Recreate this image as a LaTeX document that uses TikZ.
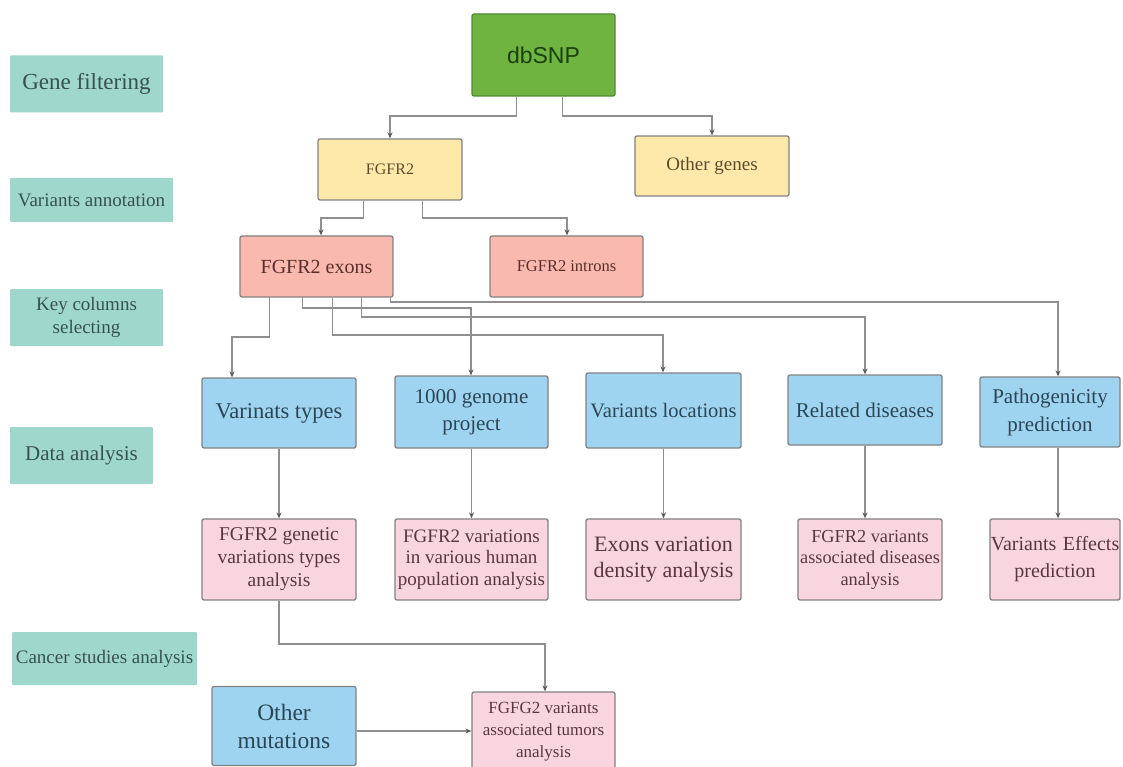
\documentclass[tikz,border=0pt]{standalone}
\usepackage{fontspec}
\setmainfont{Liberation Serif}
\newfontfamily\sansf{Liberation Sans}
\usetikzlibrary{arrows.meta,calc}
\definecolor{tealf}{HTML}{A0D7CC}
\definecolor{tealt}{HTML}{35534E}
\definecolor{greenf}{HTML}{6FB441}
\definecolor{greend}{HTML}{4F8A30}
\definecolor{greent}{HTML}{1C3F10}
\definecolor{yellowf}{HTML}{FFE9AA}
\definecolor{yellowt}{HTML}{5A4B2E}
\definecolor{salmonf}{HTML}{F9B9AE}
\definecolor{salmont}{HTML}{5A2E2A}
\definecolor{bluef}{HTML}{9FD4F1}
\definecolor{bluet}{HTML}{2A4656}
\definecolor{pinkf}{HTML}{F9D5E0}
\definecolor{pinkt}{HTML}{5A3642}
\definecolor{edgec}{HTML}{828282}
\definecolor{linec}{HTML}{8F8F8F}
\definecolor{tipc}{HTML}{5A5A5A}
\tikzset{
  phase/.style={fill=tealf, text=tealt, inner sep=0pt, align=center, rounded corners=1pt},
  boxn/.style={draw=edgec, line width=1.3pt, rounded corners=2pt, inner sep=0pt, align=center},
  greenbox/.style={boxn, fill=greenf, draw=greend, text=greent},
  yellowbox/.style={boxn, fill=yellowf, text=yellowt},
  salmonbox/.style={boxn, fill=salmonf, text=salmont},
  bluebox/.style={boxn, fill=bluef, text=bluet},
  pinkbox/.style={boxn, fill=pinkf, text=pinkt},
  arr/.style={draw=linec, line width=1.2pt, -{Stealth[length=6pt,width=5pt,color=tipc]}}
}
\begin{document}
\begin{tikzpicture}[x=1pt,y=-1pt]
\useasboundingbox[fill=white] (0,0) rectangle (1123,767);
% phase labels
\node[phase, minimum width=153pt, minimum height=57pt, font=\fontsize{23}{26}\selectfont] (p1) at (86.5,84) {Gene filtering};
\node[phase, minimum width=163pt, minimum height=44pt, font=\fontsize{19}{22}\selectfont] (p2) at (91.5,200) {Variants annotation};
\node[phase, minimum width=153pt, minimum height=57pt, font=\fontsize{19}{23}\selectfont] (p3) at (86.5,317.5) {Key columns\\selecting};
\node[phase, minimum width=143pt, minimum height=57pt, font=\fontsize{21}{24}\selectfont] (p4) at (81.5,455.5) {Data analysis};
\node[phase, minimum width=185pt, minimum height=53pt, font=\fontsize{19}{22}\selectfont] (p5) at (104.5,658.5) {Cancer studies analysis};
% main nodes
\node[greenbox, minimum width=143pt, minimum height=82pt, font=\sansf\fontsize{23}{26}\selectfont] (db) at (543.5,55) {dbSNP};
\node[yellowbox, minimum width=144pt, minimum height=61pt, font=\fontsize{16}{19}\selectfont] (fg) at (390,169.5) {FGFR2};
\node[yellowbox, minimum width=154pt, minimum height=60pt, font=\fontsize{19}{22}\selectfont] (og) at (712,166) {Other genes};
\node[salmonbox, minimum width=153pt, minimum height=61pt, font=\fontsize{20}{23}\selectfont] (ex) at (316.5,266.5) {FGFR2 exons};
\node[salmonbox, minimum width=153pt, minimum height=61pt, font=\fontsize{16.5}{19}\selectfont] (in) at (566.5,266.5) {FGFR2 introns};
% blue row
\node[bluebox, minimum width=154pt, minimum height=70pt, font=\fontsize{22.5}{26}\selectfont] (b1) at (279,413) {Varinats types};
\node[bluebox, minimum width=153pt, minimum height=72pt, font=\fontsize{21}{27}\selectfont] (b2) at (471.5,412) {1000 genome\\project};
\node[bluebox, minimum width=155pt, minimum height=75pt, font=\fontsize{20.5}{24}\selectfont] (b3) at (663.5,410.5) {Variants locations};
\node[bluebox, minimum width=154pt, minimum height=70pt, font=\fontsize{21}{24}\selectfont] (b4) at (865,410) {Related diseases};
\node[bluebox, minimum width=140pt, minimum height=70pt, font=\fontsize{21}{28}\selectfont] (b5) at (1050,412) {Pathogenicity\\prediction};
% pink row
\node[pinkbox, minimum width=154pt, minimum height=81pt, font=\fontsize{19.5}{23}\selectfont] (k1) at (279,559.5) {FGFR2 genetic\\variations types\\analysis};
\node[pinkbox, minimum width=153pt, minimum height=81pt, font=\fontsize{19}{21.5}\selectfont] (k2) at (471.5,559.5) {FGFR2 variations\\in various human\\population analysis};
\node[pinkbox, minimum width=155pt, minimum height=81pt, font=\fontsize{22}{26}\selectfont] (k3) at (663.5,559.5) {Exons variation\\density analysis};
\node[pinkbox, minimum width=144pt, minimum height=81pt, font=\fontsize{18.3}{21.5}\selectfont] (k4) at (870,559.5) {FGFR2 variants\\associated diseases\\analysis};
\node[pinkbox, minimum width=130pt, minimum height=81pt, text width=130pt, font=\fontsize{20}{27}\selectfont] (k5) at (1055,559.5) {\makebox[130pt][c]{Variants Effects}\\prediction};
% bottom
\node[bluebox, minimum width=144pt, minimum height=79pt, font=\fontsize{23.5}{28}\selectfont] (om) at (284,726) {Other\\mutations};
\node[pinkbox, minimum width=143pt, minimum height=80pt, font=\fontsize{17}{22}\selectfont] (tu) at (543.5,732) {FGFG2 variants\\associated tumors\\analysis};
% connectors
\draw[arr] ([xshift=45pt]db.south west) |- (390,116) -- (390,0 |- fg.north);
\draw[arr] ([xshift=91pt]db.south west) |- (712,116) -- (712,0 |- og.north);
\draw[arr] ([xshift=46pt]fg.south west) |- (321,218) -- (321,0 |- ex.north);
\draw[arr] ([xshift=105pt]fg.south west) |- (567,218) -- (567,0 |- in.north);
\draw[arr] ([xshift=30pt]ex.south west) |- (232,337) -- (232,0 |- b1.north);
\draw[arr] ([xshift=63pt]ex.south west) |- (471,308) -- (471,0 |- b2.north);
\draw[arr] ([xshift=93pt]ex.south west) |- (663,335) -- (663,0 |- b3.north);
\draw[arr] ([xshift=122pt]ex.south west) |- (865,317) -- (865,0 |- b4.north);
\draw[arr] ([xshift=151pt]ex.south west) |- (1058,302) -- (1058,0 |- b5.north);
\draw[arr] (b1) -- (k1);
\draw[arr] (b2) -- (k2);
\draw[arr] (b3) -- (k3);
\draw[arr] (b4.south) -- (b4.south |- k4.north);
\draw[arr] (1058,0 |- b5.south) -- (1058,0 |- k5.north);
\draw[arr] (k1.south) |- (545,644) -- (545,0 |- tu.north);
\draw[arr] (om.east |- 0,731) -- (tu.west |- 0,731);
\end{tikzpicture}
\end{document}
